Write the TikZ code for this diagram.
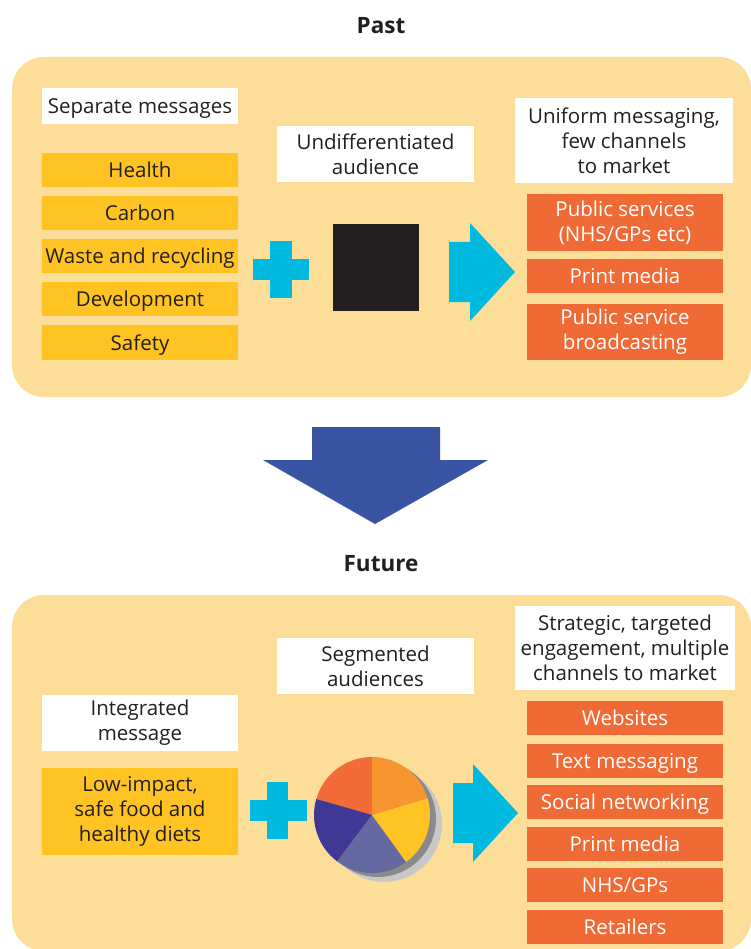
\documentclass[tikz,border=0pt]{standalone}
\usepackage{fontspec}
\setmainfont{Open Sans}
\definecolor{panel}{HTML}{FDDE99}
\definecolor{ybox}{HTML}{FFC423}
\definecolor{obox}{HTML}{F06A35}
\definecolor{cyanc}{HTML}{00B9DF}
\definecolor{navyarrow}{HTML}{3A54A4}
\definecolor{txt}{HTML}{231F20}
\definecolor{pieA}{HTML}{F26B38}
\definecolor{pieB}{HTML}{F7962F}
\definecolor{pieC}{HTML}{FFC423}
\definecolor{pieD}{HTML}{6569A1}
\definecolor{pieE}{HTML}{413896}
\definecolor{shadowdark}{HTML}{8A8A8A}
\definecolor{shadowlight}{HTML}{C8C8C8}
\tikzset{
  basebox/.style={inner sep=0pt, outer sep=0pt, align=center, font=\fontsize{20.5}{25}\selectfont},
  oneline/.style={text height=15pt, text depth=0pt},
  whitebox/.style={basebox, fill=white, text=txt},
  yellowbox/.style={basebox, fill=ybox, text=txt},
  orangebox/.style={basebox, fill=obox, text=white},
  titletext/.style={inner sep=0pt, font=\fontsize{22.5}{25}\selectfont\bfseries, text=txt},
  panelbox/.style={fill=panel, rounded corners=32pt},
  cyanshape/.style={fill=cyanc},
}
\begin{document}
\begin{tikzpicture}[x=1pt, y=-1pt]
\useasboundingbox (0,0) rectangle (751,949);
\fill[white] (0,0) rectangle (751,949);

% ---------- PAST ----------
\node[titletext] (pasttitle) at (381,26) {Past};
\fill[panelbox] (12,57) rectangle (751,397);

\node[whitebox, oneline, minimum width=196pt, minimum height=36pt] (sepmsg) at (140,106.5) {Separate messages};
\node[yellowbox, oneline, minimum width=196pt, minimum height=34pt] (health) at (140,170) {Health};
\node[yellowbox, oneline, minimum width=196pt, minimum height=34pt] (carbon) at (140,213) {Carbon};
\node[yellowbox, oneline, minimum width=196pt, minimum height=34pt] (waste) at (140,256) {Waste and recycling};
\node[yellowbox, oneline, minimum width=196pt, minimum height=34pt] (dev) at (140,299) {Development};
\node[yellowbox, oneline, minimum width=196pt, minimum height=35pt] (safety) at (140,342.5) {Safety};

\node[whitebox, minimum width=197pt, minimum height=56pt] (undiff) at (375.5,154) {Undifferentiated\\audience};
\node[whitebox, minimum width=218pt, minimum height=85pt] (uniform) at (624,140.5) {Uniform messaging,\\few channels\\to market};

\node[orangebox, minimum width=196pt, minimum height=57pt] (pubserv) at (625,222.5) {Public services\\(NHS/GPs etc)};
\node[orangebox, oneline, minimum width=196pt, minimum height=34pt] (printp) at (625,276) {Print media};
\node[orangebox, minimum width=196pt, minimum height=56pt] (psb) at (625,332) {Public service\\broadcasting};

% plus
\fill[cyanshape] (270,241) rectangle (292,298);
\fill[cyanshape] (253,259) rectangle (309,280);
% black square
\node[fill=txt, inner sep=0pt, outer sep=0pt, minimum width=86pt, minimum height=87pt] (audsq) at (376,267.5) {};
% arrow
\fill[cyanshape] (449,242) -- (470,242) -- (470,223) -- (515,272) -- (470,321) -- (470,302) -- (449,302) -- cycle;

% ---------- DOWN ARROW ----------
\fill[navyarrow] (312,427) -- (440,427) -- (440,460) -- (488,460) -- (375,524) -- (263,460) -- (312,460) -- cycle;

% ---------- FUTURE ----------
\node[titletext] (futuretitle) at (381,564) {Future};
\fill[panelbox] (12,595) rectangle (751,951);

\node[whitebox, minimum width=197pt, minimum height=56pt] (segm) at (375.5,666) {Segmented\\audiences};
\node[whitebox, minimum width=196pt, minimum height=56pt] (integ) at (140,723) {Integrated\\message};
\node[yellowbox, minimum width=196pt, minimum height=87pt] (lowimp) at (140,811.5) {Low-impact,\\safe food and\\healthy diets};

\node[whitebox, minimum width=220pt, minimum height=84pt] (strat) at (625,648) {Strategic, targeted\\engagement, multiple\\channels to market};

\node[orangebox, oneline, minimum width=196pt, minimum height=34pt] (web) at (625,718) {Websites};
\node[orangebox, oneline, minimum width=196pt, minimum height=34pt] (textm) at (625,761) {Text messaging};
\node[orangebox, oneline, minimum width=196pt, minimum height=34pt] (social) at (625,802) {Social networking};
\node[orangebox, oneline, minimum width=196pt, minimum height=34pt] (printf) at (625,844) {Print media};
\node[orangebox, oneline, minimum width=196pt, minimum height=34pt] (nhs) at (625,885) {NHS/GPs};
\node[orangebox, oneline, minimum width=196pt, minimum height=34pt] (retail) at (625,927) {Retailers};

% plus
\fill[cyanshape] (267,782) rectangle (288,839);
\fill[cyanshape] (250,800) rectangle (307,821);

% pie chart
\coordinate (pc) at (372,815);
\coordinate (ps1) at (384,824);
\coordinate (ps2) at (378,819);
\fill[shadowlight] (ps1) circle[radius=58pt];
\fill[shadowdark] (ps2) circle[radius=58pt];
\fill[pieA] (pc) -- ++(90:58pt) arc[start angle=90, end angle=164, radius=58pt] -- cycle;
\fill[pieE] (pc) -- ++(164:58pt) arc[start angle=164, end angle=233, radius=58pt] -- cycle;
\fill[pieD] (pc) -- ++(233:58pt) arc[start angle=233, end angle=306, radius=58pt] -- cycle;
\fill[pieC] (pc) -- ++(306:58pt) arc[start angle=306, end angle=377, radius=58pt] -- cycle;
\fill[pieB] (pc) -- ++(17:58pt) arc[start angle=17, end angle=90, radius=58pt] -- cycle;

% arrow
\fill[cyanshape] (453,783) -- (473,783) -- (473,764) -- (518,813) -- (473,862) -- (473,843) -- (453,843) -- cycle;
\end{tikzpicture}
\end{document}
